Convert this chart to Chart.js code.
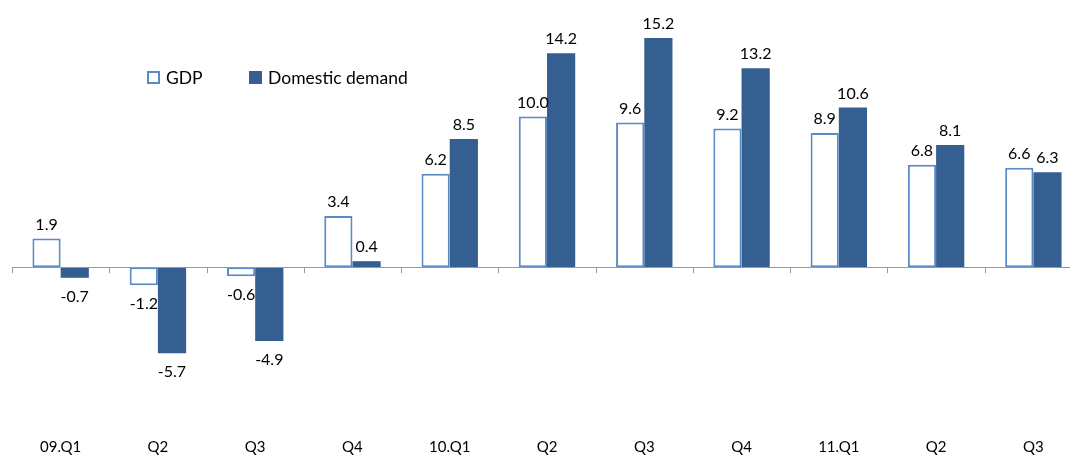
<!DOCTYPE html>
<html>
<head>
<meta charset="utf-8">
<script src="https://cdn.jsdelivr.net/npm/chart.js@4"></script>
<style>
    html, body { margin: 0; padding: 0; background: #fff; overflow: hidden; }
    #wrap { position: relative; width: 1086px; height: 456px; overflow: hidden; }
    .legend { position: absolute; top: 67px; left: 147px; font-family: Lato, "Open Sans", sans-serif; font-size: 17.5px; color: #000; }
    .legend span.item { display: inline-flex; align-items: center; margin-right: 42px; }
    .legend i { display: inline-block; width: 13px; height: 13px; margin-right: 6px; box-sizing: border-box; }
    .legend i.gdp { border: 2px solid #5B8BC7; background: #fff; }
    .legend i.dd { background: #365F91; }
</style>
</head>
<body>
<div id="wrap">
    <canvas id="chart" width="1086" height="473"></canvas>
    <div class="legend">
        <span class="item"><i class="gdp"></i>GDP</span>
        <span class="item"><i class="dd"></i>Domestic demand</span>
    </div>
</div>
<script>
// Chart data
const categories = ['09.Q1', 'Q2', 'Q3', 'Q4', '10.Q1', 'Q2', 'Q3', 'Q4', '11.Q1', 'Q2', 'Q3'];
const gdpValues = [1.9, -1.2, -0.6, 3.4, 6.2, 10.0, 9.6, 9.2, 8.9, 6.8, 6.6];
const demandValues = [-0.7, -5.7, -4.9, 0.4, 8.5, 14.2, 15.2, 13.2, 10.6, 8.1, 6.3];

const labelFont = '16px Lato, "Open Sans", sans-serif';

// Draws the zero line with small ticks between categories
const zeroAxisPlugin = {
    id: 'zeroAxis',
    afterDatasetsDraw(chart) {
        const ctx = chart.ctx;
        const x = chart.scales.x;
        const y0 = chart.scales.y.getPixelForValue(0);
        const area = chart.chartArea;
        ctx.save();
        ctx.strokeStyle = '#999';
        ctx.lineWidth = 1;
        ctx.beginPath();
        ctx.moveTo(area.left, Math.round(y0) + 0.5);
        ctx.lineTo(area.right, Math.round(y0) + 0.5);
        const step = x.getPixelForValue(1) - x.getPixelForValue(0);
        for (let i = 0; i <= categories.length; i++) {
            const px = Math.round(x.getPixelForValue(0) - step / 2 + i * step) + 0.5;
            ctx.moveTo(px, y0);
            ctx.lineTo(px, y0 + 6);
        }
        ctx.stroke();
        ctx.restore();
    }
};

// Draws the value labels above / below each bar
const valueLabelPlugin = {
    id: 'valueLabels',
    afterDatasetsDraw(chart) {
        const ctx = chart.ctx;
        ctx.save();
        ctx.font = labelFont;
        ctx.fillStyle = '#000';
        ctx.textAlign = 'center';
        chart.data.datasets.forEach((ds, di) => {
            chart.getDatasetMeta(di).data.forEach((bar, i) => {
                const v = ds.data[i];
                if (v >= 0) {
                    ctx.textBaseline = 'bottom';
                    ctx.fillText(v.toFixed(1), bar.x, bar.y - 6);
                } else {
                    ctx.textBaseline = 'top';
                    ctx.fillText(v.toFixed(1), bar.x, bar.y + 11);
                }
            });
        });
        ctx.restore();
    }
};

new Chart(document.getElementById('chart').getContext('2d'), {
    type: 'bar',
    data: {
        labels: categories,
        datasets: [{
            label: 'GDP',
            data: gdpValues,
            backgroundColor: '#ffffff',
            borderColor: '#5B8BC7',
            borderWidth: 2,
            borderSkipped: false
        }, {
            label: 'Domestic demand',
            data: demandValues,
            backgroundColor: '#365F91',
            borderWidth: 0
        }]
    },
    options: {
        responsive: false,
        animation: false,
        layout: { padding: { left: 12, right: 4, top: 26, bottom: 0 } },
        plugins: {
            legend: { display: false },
            tooltip: { enabled: false }
        },
        datasets: {
            bar: { categoryPercentage: 0.58, barPercentage: 1.0 }
        },
        scales: {
            x: {
                grid: { display: false, drawTicks: false },
                border: { display: false },
                ticks: {
                    color: '#000',
                    font: { family: '"Liberation Sans Narrow", Lato, sans-serif', size: 15 },
                    padding: 17,
                    maxRotation: 0
                }
            },
            y: {
                display: false,
                min: -10.2,
                max: 16
            }
        }
    },
    plugins: [zeroAxisPlugin, valueLabelPlugin]
});
</script>
</body>
</html>
